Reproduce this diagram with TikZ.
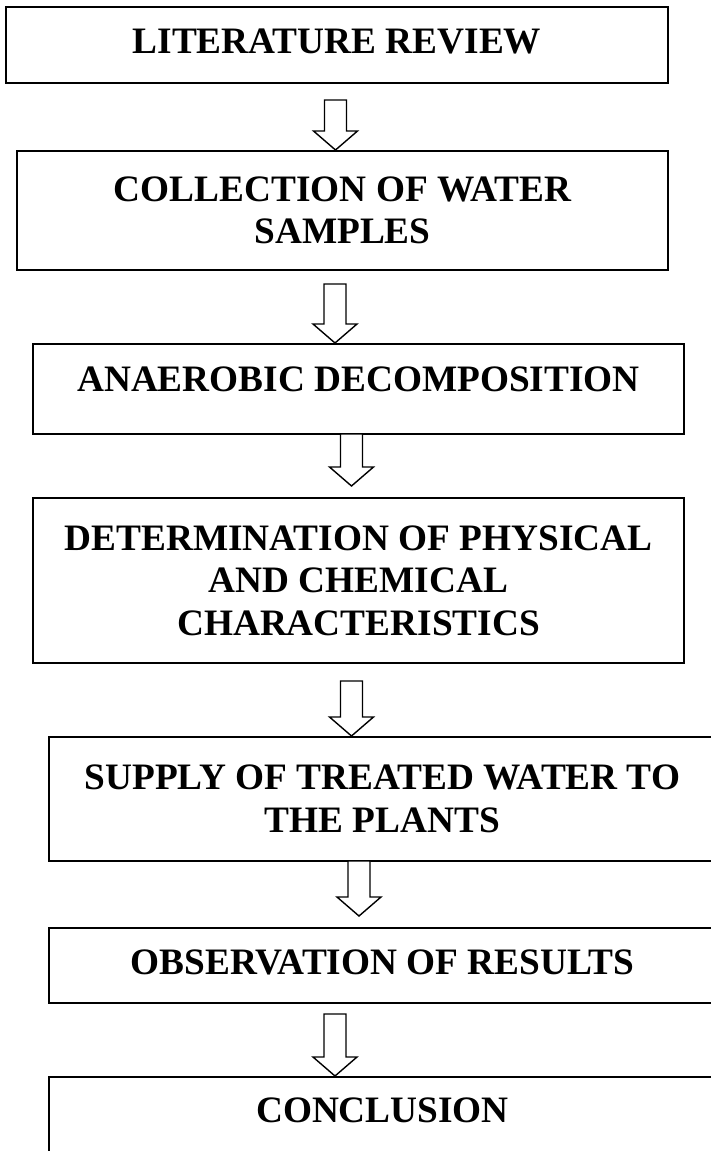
\documentclass[tikz,border=0pt]{standalone}
\usepackage{fontspec}
\setmainfont{Liberation Serif}
\usetikzlibrary{calc}

\begin{document}
\begin{tikzpicture}[
  x=0.5pt, y=-0.5pt,
  box/.style={rectangle, draw=black, line width=1pt, align=center, inner sep=0pt, font=\fontsize{18.65pt}{21.25pt}\selectfont\bfseries},
  hollow/.style={draw=black, fill=white, line width=0.7pt, line join=miter}
]
\useasboundingbox (0,0) rectangle (711,1151);

\node[box, minimum width=331pt, minimum height=38pt, text depth=4pt] (b1) at (337,44.7) {LITERATURE REVIEW};
\node[box, minimum width=325.5pt, minimum height=59.5pt] (b2) at (342.5,210.5) {COLLECTION OF WATER\\SAMPLES};
\node[box, minimum width=325.5pt, minimum height=45pt, text depth=10pt] (b3) at (358.5,389) {ANAEROBIC DECOMPOSITION};
\node[box, minimum width=325.5pt, minimum height=82.5pt] (b4) at (358.5,580.5) {DETERMINATION OF PHYSICAL\\AND CHEMICAL\\CHARACTERISTICS};
\node[box, minimum width=333.5pt, minimum height=62pt] (b5) at (382.5,799) {SUPPLY OF TREATED WATER TO\\THE PLANTS};
\node[box, minimum width=333.5pt, minimum height=37.5pt, text depth=3.5pt] (b6) at (382.5,965.5) {OBSERVATION OF RESULTS};
\node[box, minimum width=333.5pt, minimum height=41.5pt, text depth=8.5pt] (b7) at (382.5,1118.5) {CONCLUSION};

% hollow block arrows
\coordinate (s1) at (335.5,100);
\coordinate (e1) at (s1 |- b2.north);
\coordinate (s2) at (335,284);
\coordinate (e2) at (s2 |- b3.north);
\coordinate (s3) at (351.5,434);
\coordinate (e3) at (351.5,486);
\coordinate (s4) at (351.5,681);
\coordinate (e4) at (s4 |- b5.north);
\coordinate (s5) at (359,861);
\coordinate (e5) at (359,916);
\coordinate (s6) at (335,1014);
\coordinate (e6) at (s6 |- b7.north);

\foreach \s/\e in {s1/e1, s2/e2, s3/e3, s4/e4, s5/e5, s6/e6}
  \draw[hollow] let \p1=(\s), \p2=(\e) in
    (\x1-5.5pt,\y1) -- (\x1+5.5pt,\y1) -- (\x1+5.5pt,\y2+9.5pt) -- (\x1+11pt,\y2+9.5pt)
    -- (\x1,\y2) -- (\x1-11pt,\y2+9.5pt) -- (\x1-5.5pt,\y2+9.5pt) -- cycle;
\end{tikzpicture}
\end{document}
